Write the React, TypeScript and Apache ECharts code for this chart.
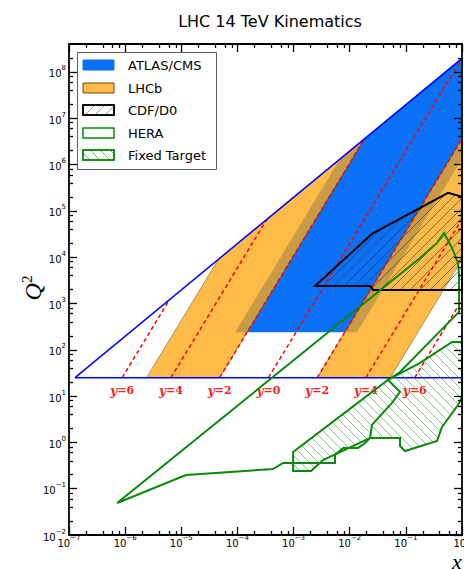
import React, { useEffect, useRef } from 'react';
import * as echarts from 'echarts';

// ---------- axis ticks ----------
const xMajorTicks = [1e-7, 1e-6, 1e-5, 1e-4, 1e-3, 1e-2, 1e-1, 1];
const yMajorTicks = [1e-2, 1e-1, 1, 1e1, 1e2, 1e3, 1e4, 1e5, 1e6, 1e7, 1e8];
const minorMultipliers = [2, 4, 6, 8];
const xRange = [1e-7, 1];
const yRange = [1e-2, 4e8];
const xMinorTicks = xMajorTicks.slice(0, -1).flatMap((d) => minorMultipliers.map((m) => m * d));
const yMinorTicks = yMajorTicks.flatMap((d) => minorMultipliers.map((m) => m * d)).filter((v) => v < yRange[1]);

// ---------- LHC 14 TeV kinematic regions (x, Q^2) ----------
const kinematicLimit = [[1.28e-7, 25], [1, 1.96e8]];
const q2Floor = [[1.28e-7, 25], [1, 25]];
const atlasCms = [[9.08e-5, 240], [6.74e-3, 1.32e6], [1, 1.96e8], [1, 1.32e6], [1.35e-2, 240]];
const lhcbLeft = [[2.41e-6, 25], [4.83e-5, 25], [1.83e-2, 3.59e6], [4.54e-5, 8.9e3]];
const lhcbRight = [[2.64e-3, 25], [5.3e-2, 25], [1, 8.9e3], [1, 3.59e6]];
const rapidityNames = ['6', '4', '2', '0', '2', '4', '6'];
const rapidityLines = [
  [[8.85e-7, 25], [6.14e-6, 1204]],
  [[6.54e-6, 25], [3.35e-4, 6.57e4]],
  [[4.83e-5, 25], [1.83e-2, 3.59e6]],
  [[3.57e-4, 25], [1, 1.96e8]],
  [[2.64e-3, 25], [1, 3.59e6]],
  [[1.95e-2, 25], [1, 6.57e4]],
  [[1.44e-1, 25], [1, 1204]],
];
const cdfD0 = [
  [2.41e-3, 2390], [2.3e-2, 2390], [2.6e-2, 1960], [1, 1960], [1, 2.0e5], [0.564, 2.44e5], [2.49e-2, 3.17e4],
];
const hera = [
  [7.2e-7, 0.049], [0.179, 9600], [0.359, 20300], [0.479, 33300], [0.664, 15800], [0.849, 7500],
  [0.885, 4130], [0.885, 655], [0.0787, 33], [0.048, 22.3], [0.0787, 12.3], [0.0566, 7.1],
  [0.0249, 2.38], [0.023, 1.24], [0.0188, 0.97], [0.0141, 0.76], [0.0076, 0.76], [0.00547, 0.535],
  [0.00547, 0.359], [6.5e-4, 0.359], [4.3e-4, 0.266], [1.21e-5, 0.198],
];
const fixedTarget = [
  [9.8e-4, 0.62], [0.048, 22.3], [0.179, 51.9], [0.664, 147], [1, 147], [1, 9.1], [0.849, 6.4],
  [0.44, 2.15], [0.359, 1.07], [0.0966, 0.65], [0.0787, 0.835], [0.0787, 1.24], [0.023, 1.24],
  [3.34e-3, 0.417], [2.05e-3, 0.241], [9.8e-4, 0.241],
];

const legendNames = ['ATLAS/CMS', 'LHCb', 'CDF/D0', 'HERA', 'Fixed Target'];

// ---------- styles ----------
const BLUE_FILL = '#0a70f5';
const ORANGE_FILL = 'rgba(255,168,20,0.78)';
const GREEN = '#0a8a0a';
const FONT = 'DejaVu Sans';

function hatchSegments(pts: number[][], step: number, dir: number): number[][] {
  const vals = pts.map((p) => p[0] + dir * p[1]);
  const lo = Math.min(...vals);
  const hi = Math.max(...vals);
  const segs: number[][] = [];
  for (let c = Math.ceil(lo / step) * step; c < hi; c += step) {
    const hits: number[][] = [];
    for (let i = 0; i < pts.length; i++) {
      const a = pts[i];
      const b = pts[(i + 1) % pts.length];
      const fa = a[0] + dir * a[1] - c;
      const fb = b[0] + dir * b[1] - c;
      if ((fa < 0) !== (fb < 0)) {
        const t = fa / (fa - fb);
        hits.push([a[0] + t * (b[0] - a[0]), a[1] + t * (b[1] - a[1])]);
      }
    }
    hits.sort((p, q) => p[0] - q[0]);
    for (let k = 0; k + 1 < hits.length; k += 2) {
      segs.push([hits[k][0], hits[k][1], hits[k + 1][0], hits[k + 1][1]]);
    }
  }
  return segs;
}

type Hatch = { step: number; dir: number; color: string; width: number };

function regionSeries(verts: number[][], z: number, polyStyle: any, hatch?: Hatch) {
  return {
    type: 'custom',
    silent: true,
    z,
    clip: false,
    data: [verts[0]],
    renderItem: (_p: any, api: any) => {
      const pts = verts.map((v) => api.coord(v));
      const children: any[] = [];
      if (hatch) {
        hatchSegments(pts, hatch.step, hatch.dir).forEach((s) =>
          children.push({
            type: 'line',
            shape: { x1: s[0], y1: s[1], x2: s[2], y2: s[3] },
            style: { stroke: hatch.color, lineWidth: hatch.width },
          })
        );
      }
      children.push({ type: 'polygon', shape: { points: pts }, style: polyStyle });
      return { type: 'group', children };
    },
  };
}

const powLabel = (v: number) => {
  const e = Math.round(Math.log10(v));
  const es = e < 0 ? '\u2212' + -e : String(e);
  return `{b|10}{s|${es}}`;
};
const labelRich = {
  b: { fontSize: 10, fontFamily: FONT, color: '#000', lineHeight: 14, verticalAlign: 'bottom' },
  s: { fontSize: 7, fontFamily: FONT, color: '#000', verticalAlign: 'top' },
};

function makeAxis(kind: 'x' | 'y', position: string, values: number[], len: number, withLabel: boolean, withLine: boolean) {
  const range = kind === 'x' ? xRange : yRange;
  return {
    type: 'log',
    logBase: 10,
    min: range[0],
    max: range[1],
    position,
    z: 10,
    silent: true,
    axisLine: { show: withLine, onZero: false, lineStyle: { color: '#000', width: 1.8 } },
    axisTick: { show: true, inside: true, length: len, customValues: values, lineStyle: { color: '#000', width: 1.3 } },
    axisLabel: withLabel
      ? {
          show: true,
          customValues: values,
          formatter: powLabel,
          rich: labelRich,
          margin: kind === 'x' ? -1 : 3,
          hideOverlap: false,
        }
      : { show: false },
    splitLine: { show: false },
    minorTick: { show: false },
    minorSplitLine: { show: false },
  };
}

// legend graphics
function legendGraphics() {
  const items: any[] = [];
  const frame = { x: 77, y: 52, w: 139, h: 117 };
  items.push({
    type: 'rect',
    z: 100,
    shape: { x: frame.x + 0.5, y: frame.y + 0.5, width: frame.w, height: frame.h },
    style: { fill: '#fff', stroke: '#333', lineWidth: 0.8 },
  });
  const centers = [65, 88, 110, 133, 155];
  const px = 83;
  const pw = 31;
  const ph = 10;
  const patchStyles = [
    { fill: BLUE_FILL, stroke: BLUE_FILL, lineWidth: 1 },
    { fill: ORANGE_FILL, stroke: '#6b4a10', lineWidth: 1 },
    { fill: '#fff', stroke: '#000', lineWidth: 1.5 },
    { fill: '#fff', stroke: GREEN, lineWidth: 1.5 },
    { fill: '#fff', stroke: GREEN, lineWidth: 1.5 },
  ];
  const hatches: (Hatch | null)[] = [
    null,
    null,
    { step: 10, dir: 1, color: '#777', width: 0.7 },
    null,
    { step: 10, dir: -1, color: '#4a9a4a', width: 0.7 },
  ];
  legendNames.forEach((name, i) => {
    const cy = centers[i];
    const y0 = cy - ph / 2;
    items.push({
      type: 'rect',
      z: 101,
      shape: { x: px, y: y0, width: pw, height: ph },
      style: patchStyles[i],
    });
    const h = hatches[i];
    if (h) {
      const rectPts = [[px, y0], [px + pw, y0], [px + pw, y0 + ph], [px, y0 + ph]];
      hatchSegments(rectPts, h.step, h.dir).forEach((s) =>
        items.push({
          type: 'line',
          z: 102,
          shape: { x1: s[0], y1: s[1], x2: s[2], y2: s[3] },
          style: { stroke: h.color, lineWidth: h.width },
        })
      );
      items.push({
        type: 'rect',
        z: 103,
        shape: { x: px, y: y0, width: pw, height: ph },
        style: { fill: 'none', stroke: patchStyles[i].stroke, lineWidth: 1.5 },
      });
    }
    items.push({
      type: 'text',
      z: 103,
      x: 128,
      y: cy,
      style: { text: name, font: `13px ${FONT}`, fill: '#000', align: 'left', verticalAlign: 'middle' },
    });
  });
  return items;
}

export default function App() {
  const ref = useRef<HTMLDivElement>(null);
  useEffect(() => {
    if (!ref.current) return;
    const chart = echarts.init(ref.current, null, { renderer: 'svg' });
    const option: any = {
      animation: false,
      backgroundColor: '#fff',
      grid: { left: 69, right: 2, top: 44, bottom: 34, containLabel: false, outerBoundsMode: 'none' },
      xAxis: [
        makeAxis('x', 'bottom', xMajorTicks, 8, true, true),
        makeAxis('x', 'bottom', xMinorTicks, 4, false, false),
        makeAxis('x', 'top', xMajorTicks, 8, false, true),
        makeAxis('x', 'top', xMinorTicks, 4, false, false),
      ],
      yAxis: [
        makeAxis('y', 'left', yMajorTicks, 8, true, true),
        makeAxis('y', 'left', yMinorTicks, 4, false, false),
        makeAxis('y', 'right', yMajorTicks, 8, false, true),
        makeAxis('y', 'right', yMinorTicks, 4, false, false),
      ],
      series: [
        regionSeries(atlasCms, 1, { fill: BLUE_FILL, stroke: 'none' }),
        regionSeries(lhcbLeft, 2, { fill: ORANGE_FILL, stroke: 'rgba(70,45,0,0.7)', lineWidth: 0.6 }),
        regionSeries(lhcbRight, 2, { fill: ORANGE_FILL, stroke: 'rgba(70,45,0,0.7)', lineWidth: 0.6 }),
        ...rapidityLines.map((seg) => ({
          type: 'line',
          silent: true,
          z: 3,
          data: seg,
          symbol: 'none',
          lineStyle: { color: '#ff0000', width: 1.5, type: [4, 3] },
        })),
        {
          type: 'line',
          silent: true,
          z: 4,
          data: kinematicLimit,
          symbol: 'none',
          lineStyle: { color: '#0000ff', width: 1.5 },
        },
        {
          type: 'line',
          silent: true,
          z: 4,
          data: q2Floor,
          symbol: 'none',
          lineStyle: { color: '#0000ff', width: 1.5 },
        },
        {
          type: 'custom',
          silent: true,
          z: 4,
          clip: false,
          data: rapidityLines.map((seg) => seg[0]),
          renderItem: (params: any, api: any) => {
            const p = api.coord([api.value(0), api.value(1)]);
            return {
              type: 'text',
              x: p[0],
              y: p[1] + 13,
              style: {
                text: `{i|y}{n|=${rapidityNames[params.dataIndex]}}`,
                align: 'center',
                verticalAlign: 'middle',
                rich: {
                  i: { font: 'italic bold 12px "DejaVu Serif"', fill: '#ff2020' },
                  n: { font: 'bold 11px "DejaVu Serif"', fill: '#ff2020' },
                },
              },
            };
          },
        },
        regionSeries(cdfD0, 5, { fill: 'none', stroke: '#000', lineWidth: 2 }, { step: 10, dir: 1, color: '#333', width: 0.6 }),
        regionSeries(fixedTarget, 6, { fill: 'none', stroke: GREEN, lineWidth: 2 }, { step: 9, dir: -1, color: '#3a9a3a', width: 0.6 }),
        regionSeries(hera, 6, { fill: 'none', stroke: GREEN, lineWidth: 2 }),
      ],
      graphic: [
        {
          type: 'text',
          x: 270,
          y: 21,
          z: 100,
          style: { text: 'LHC 14 TeV Kinematics', font: `16px ${FONT}`, fill: '#000', align: 'center', verticalAlign: 'middle' },
        },
        {
          type: 'text',
          x: 32,
          y: 288,
          rotation: Math.PI / 2,
          z: 100,
          style: {
            text: '{q|Q}{s|2}',
            align: 'center',
            verticalAlign: 'middle',
            rich: {
              q: { font: 'italic 24px "Liberation Serif"', fill: '#000', lineHeight: 26, verticalAlign: 'bottom' },
              s: { font: '15px "Liberation Serif"', fill: '#000', verticalAlign: 'top' },
            },
          },
        },
        {
          type: 'text',
          x: 452,
          y: 561,
          z: 100,
          style: { text: 'x', font: 'italic 22px "Liberation Serif"', fill: '#000', align: 'left', verticalAlign: 'middle' },
        },
        ...legendGraphics(),
      ],
    };
    chart.setOption(option);
    return () => chart.dispose();
  }, []);
  return (
    <div
      ref={ref}
      style={{ position: 'fixed', left: 0, top: 0, width: 464, height: 569, background: '#fff' }}
    />
  );
}
